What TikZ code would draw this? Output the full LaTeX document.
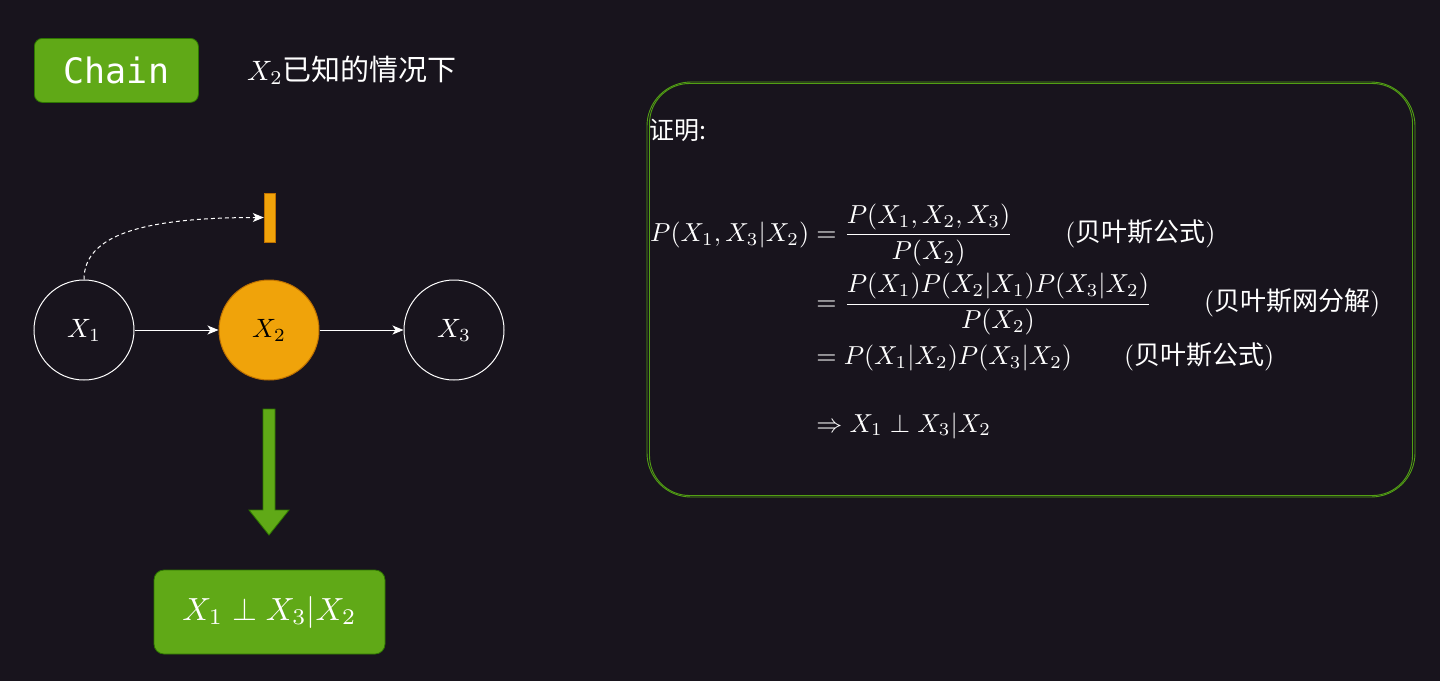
\documentclass[tikz,border=0pt]{standalone}
\usepackage{amsmath}
\usepackage{graphicx}
\usepackage{fontspec}
\newfontfamily\cjk{Noto Sans CJK SC}
\newfontfamily\monof{DejaVu Sans Mono}
\usetikzlibrary{arrows.meta}
\definecolor{bgc}{HTML}{18141D}
\definecolor{greenF}{HTML}{60A917}
\definecolor{greenS}{HTML}{2D7600}
\definecolor{orangeF}{HTML}{F0A30A}
\definecolor{orangeS}{HTML}{BD7000}
\definecolor{sketchG}{HTML}{52A014}
\newcommand{\scmath}[2]{\scalebox{#1}{$#2$}}
\tikzset{
  greenbox/.style={draw=greenS, fill=greenF, rounded corners=8pt, line width=0.8pt, text=white, inner sep=0pt},
  varnode/.style={circle, draw=white, line width=1pt, minimum size=100pt, inner sep=0pt, text=white},
  obsnode/.style={circle, draw=orangeS, fill=orangeF, line width=1pt, minimum size=100pt, inner sep=0pt, text=black},
  edge/.style={draw=white, line width=1pt, -{Stealth[length=11pt,width=9pt,inset=3pt]}},
  dashedge/.style={draw=white, line width=1pt, dash pattern=on 4pt off 3pt, -{Stealth[length=11pt,width=9pt,inset=3pt]}},
  sketch/.style={draw=sketchG, line width=0.9pt},
}
\begin{document}
\begin{tikzpicture}[x=1pt,y=-1pt]
\fill[bgc] (0,0) rectangle (1440,681);
\useasboundingbox (0,0) rectangle (1440,681);

% header
\node[greenbox, minimum width=164pt, minimum height=64pt, anchor=north west] (chain) at (34,38) {\monof\fontsize{35}{40}\selectfont Chain};
\node[anchor=west, text=white, inner sep=0pt] (title) at (247,70) {\scmath{2.8}{X_2}\cjk\fontsize{29}{34}\selectfont 已知的情况下};

% graph
\node[varnode] (x1) at (84,330) {\scmath{2.65}{X_1}};
\node[obsnode] (x2) at (269,330) {\scmath{2.65}{X_2}};
\node[varnode] (x3) at (454,330) {\scmath{2.65}{X_3}};
\node[draw=orangeS, fill=orangeF, minimum width=11pt, minimum height=49pt, inner sep=0pt] (bar) at (269.5,217.5) {};
\draw[edge] (x1) -- (x2);
\draw[edge] (x2) -- (x3);
\draw[dashedge] (x1.north) .. controls (84,236) and (140,217.5) .. (bar.west);

% big arrow
\coordinate (atop) at (269,409);
\draw[draw=greenS, fill=greenF, line width=0.8pt] ([xshift=-6pt]atop) -- ([xshift=6pt]atop) -- ++(0,101) -- ++(14,0) -- (269,535) -- (249,510) -- (263,510) -- cycle;

\node[greenbox, rounded corners=10pt, minimum width=231pt, minimum height=84pt] (res) at (269.5,612) {\scmath{3.2}{X_1 \perp X_3|X_2}};

% proof box
\node[sketch, rounded corners=44pt, minimum width=768pt, minimum height=415pt, inner sep=0pt] (proof) at (1031,289.5) {};
\draw[sketch, rounded corners=40pt] (649.5,83.5) rectangle (1412.5,495.5);

\node[anchor=west, text=white, inner sep=0pt] (lbl) at (649,130) {\cjk\fontsize{25}{29}\selectfont 证明:};

\node[anchor=north west, inner sep=0pt, text=white] (eq) at (650,204) {\scalebox{2.6}{\setlength{\jot}{2pt}$\begin{aligned}
P(X_1,X_3|X_2) &= \frac{P(X_1,X_2,X_3)}{P(X_2)} \qquad \text{(\cjk 贝叶斯公式\rmfamily)}\\
&= \frac{P(X_1)P(X_2|X_1)P(X_3|X_2)}{P(X_2)} \qquad \text{(\cjk 贝叶斯网分解\rmfamily)}\\
&= P(X_1|X_2)P(X_3|X_2) \qquad \text{(\cjk 贝叶斯公式\rmfamily)}\\[12pt]
&\Rightarrow X_1 \perp X_3|X_2
\end{aligned}$}};
\end{tikzpicture}
\end{document}
